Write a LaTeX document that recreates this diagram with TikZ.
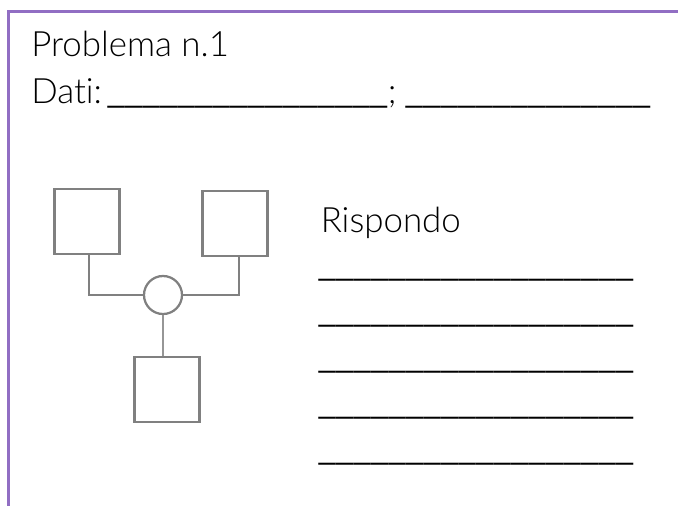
\documentclass[tikz,border=0pt]{standalone}
\usepackage{fontspec}
\setmainfont{Lato Light}[Ligatures=NoCommon]
\newfontfamily\ulfont{Carlito}
\definecolor{framepurple}{RGB}{145,110,195}
\definecolor{boxgray}{RGB}{128,128,128}
\definecolor{linkgray}{RGB}{150,150,150}
\newcommand{\blank}[1]{{\ulfont\fontsize{25}{30}\selectfont\foreach \k in {1,...,#1}{\_}}}
\begin{document}
\begin{tikzpicture}[x=0.025cm, y=-0.025cm, % one unit = one pixel, y downwards
  txt/.style={anchor=base west, inner sep=0pt, font=\fontsize{24.8}{30}\selectfont},
  sqbox/.style={draw=boxgray, line width=2.1pt, minimum size=1.625cm, inner sep=0pt},
  hub/.style={circle, draw=boxgray, line width=1.6pt, minimum size=0.95cm, inner sep=0pt},
  link/.style={draw=boxgray, line width=2pt}]
  \useasboundingbox (0,0) rectangle (678,506);

  % Frame (top and left edge only)
  \draw[framepurple, line width=2pt] (678,11.5) -- (8.5,11.5) -- (8.5,506);

  % Heading
  \node[txt] (title) at (31,56) {Problema n.1};
  \node[txt] (dati) at (31,103) {Dati:};
  \node[txt] (blankA) at (107,103) {\blank{16}};
  \node[txt] (semi) at (blankA.base east) {;};
  \node[txt] (blankB) at (405,103) {\blank{14}};

  % Diagram
  \node[sqbox] (lbox) at (87,221.5) {};
  \node[sqbox] (rbox) at (235,223.5) {};
  \node[hub]   (hub)  at (163,295) {};
  \node[sqbox] (bbox) at (167,389.5) {};
  \draw[link] ([xshift=0.05cm]lbox.south) |- (hub.west);
  \draw[link] ([xshift=0.1cm]rbox.south) |- (hub.east);
  \draw[linkgray, line width=1.3pt] (hub.south) -- (hub.south |- bbox.north);

  % Answer lines
  \node[txt] (answer) at (320.5,232) {Rispondo};
  \foreach \Y [count=\n] in {281,327,373,419,465} {
    \node[txt] (line\n) at (318,\Y-5) {\blank{18}};
  }
\end{tikzpicture}
\end{document}
